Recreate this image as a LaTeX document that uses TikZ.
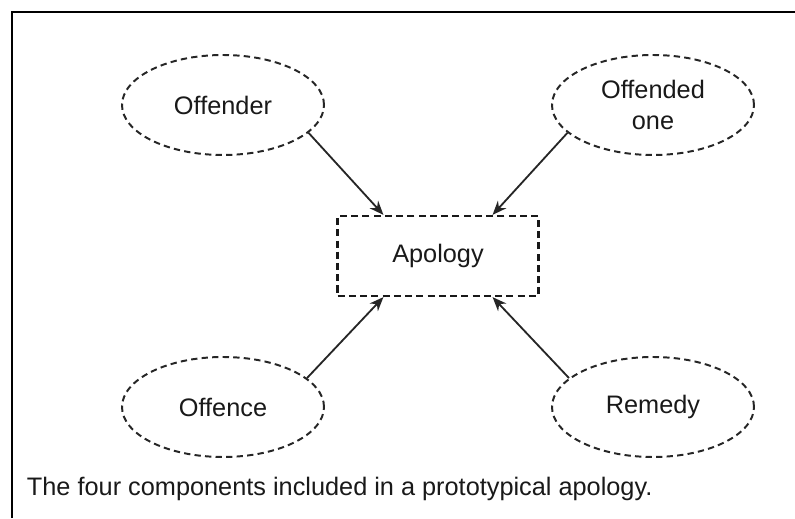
\documentclass[tikz,border=0pt]{standalone}
\usepackage{fontspec}
\setmainfont{Liberation Sans}
\usetikzlibrary{shapes.geometric, arrows.meta, positioning}
\tikzstyle{component} = [ellipse, minimum width=5.05cm, minimum height=2.5cm, align=center, draw=black!85, line width=1.4pt, dash pattern=on 4.5pt off 3pt]
\tikzstyle{process} = [rectangle, minimum width=5.02cm, minimum height=2cm, align=center, draw=black!90, line width=1.6pt, dash pattern=on 5pt off 3pt]
\tikzstyle{arrow} = [line width=1.3pt, draw=black!85, -{Stealth[length=10pt,width=8pt]}]

\begin{document}
\begin{tikzpicture}[node distance=3.775cm and 5.375cm, on grid]
\tikzstyle{every node}=[font=\fontsize{18}{21.5}\selectfont, text=black!90]
\useasboundingbox (0,0) rectangle (19.875,12.95);
\draw[line width=1.4pt] (0.3,0) -- (0.3,12.65) -- (19.875,12.65);

\node (apology) [process] at (10.95,6.55) {Apology};
\node (offender) [component, above left=of apology] {Offender};
\node (offended) [component, above right=of apology] {Offended\\one};
\node (offence) [component, below left=of apology] {Offence};
\node (remedy) [component, below right=of apology] {Remedy};

\node (caption) [anchor=base west] at (0.55,0.575) {The four components included in a prototypical apology.};

\draw[arrow] (offender.-18) -- (apology.143);
\draw[arrow] (offended.198) -- (apology.37);
\draw[arrow] (offence.19) -- (apology.217);
\draw[arrow] (remedy.161) -- (apology.-37);
\end{tikzpicture}
\end{document}
